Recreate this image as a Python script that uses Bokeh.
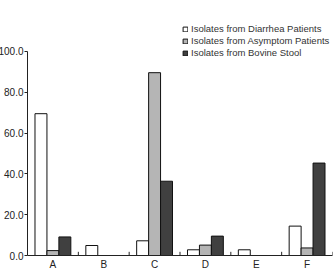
from bokeh.plotting import figure
from bokeh.models import (ColumnDataSource, FactorRange, Range1d, FixedTicker,
                          PrintfTickFormatter, Legend, LegendItem)
from bokeh.transform import dodge
from bokeh.embed import file_html
from bokeh.resources import INLINE

# Percentage of isolates per group
categories = ["A", "B", "C", "D", "E", "F"]
diarrhea = [69.5, 4.9, 7.2, 2.8, 2.8, 14.4]
asymptom = [2.4, 0.0, 89.6, 5.1, 0.0, 3.7]
bovine = [9.1, 0.0, 36.4, 9.5, 0.0, 45.3]
y_ticks = [0, 20, 40, 60, 80, 100]

series_names = ["Isolates from Diarrhea Patients",
                "Isolates from Asymptom Patients",
                "Isolates from Bovine Stool"]

src = ColumnDataSource(dict(cat=categories, diarrhea=diarrhea,
                            asymptom=asymptom, bovine=bovine,
                            zero=[0] * len(categories),
                            mark=[1.8] * len(categories)))

shift = 5
p = figure(width=334 + shift, height=272, output_backend="svg",
           toolbar_location=None,
           x_range=FactorRange(*categories, range_padding=0),
           y_range=Range1d(0, 124),
           min_border_top=2, min_border_bottom=16, min_border_right=2,
           min_border_left=0)
p.margin = (0, 0, 0, -shift)
p.outline_line_color = None
p.grid.visible = False
p.background_fill_color = "white"

bw = 0.235
fills = ["white", "#b5b5b5", "#404040"]
cols = ["diarrhea", "asymptom", "bovine"]
offsets = [-bw, 0.0, bw]
renderers = []
for col, off, fc in zip(cols, offsets, fills):
    r = p.vbar(x=dodge("cat", off, range=p.x_range), top=col, width=bw,
               source=src, fill_color=fc, line_color="#111111", line_width=1)
    renderers.append(r)

# small inward marks between the groups
p.segment(x0=dodge("cat", 0.5, range=p.x_range), y0="zero",
          x1=dodge("cat", 0.5, range=p.x_range), y1="mark",
          source=src, line_color="#222222", line_width=1)

# y axis
ya = p.yaxis[0]
ya.ticker = FixedTicker(ticks=y_ticks)
ya.formatter = PrintfTickFormatter(format="%.1f")
ya.bounds = (0, 100)
ya.minor_tick_line_color = None
ya.major_tick_in = 0
ya.major_tick_out = 3
ya.major_label_standoff = 1
ya.major_label_text_font = "Liberation Sans"
ya.major_label_text_font_size = "10px"
ya.major_label_text_color = "#222222"
ya.axis_line_color = "#222222"
ya.major_tick_line_color = "#222222"

# x axis
xa = p.xaxis[0]
xa.major_tick_in = 0
xa.major_tick_out = 0
xa.major_label_standoff = 3
xa.major_label_text_font = "Liberation Sans"
xa.major_label_text_font_size = "10px"
xa.major_label_text_color = "#222222"
xa.axis_line_color = "#222222"

legend = Legend(items=[LegendItem(label=n, renderers=[r])
                       for n, r in zip(series_names, renderers)],
                location=(155, 197))
legend.glyph_width = 6
legend.glyph_height = 6
legend.label_height = 9
legend.label_standoff = 3
legend.spacing = 1
legend.padding = 0
legend.margin = 0
legend.border_line_color = None
legend.background_fill_alpha = 0
legend.label_text_font = "Liberation Sans"
legend.label_text_font_size = "9.5px"
legend.label_text_color = "#333333"
p.add_layout(legend, "center")

open("out.html", "w").write(file_html(p, INLINE))
